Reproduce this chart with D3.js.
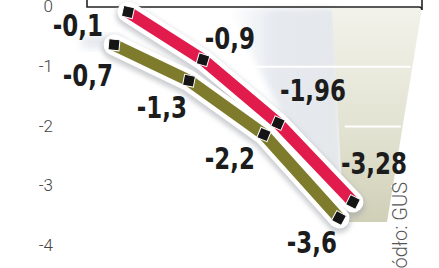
<!DOCTYPE html>
<html>
<head>
<meta charset="utf-8">
<script src="https://cdn.jsdelivr.net/npm/d3@7/dist/d3.min.js"></script>
<style>
  html, body { margin: 0; padding: 0; background: #fff; }
  svg { display: block; }
</style>
</head>
<body>
<svg id="chart" width="439" height="268"></svg>
<script>
// ---- data ----
const categories = ["I", "II", "III", "IV"];
const seriesRed = [-0.1, -0.9, -1.96, -3.28];
const seriesGreen = [-0.7, -1.3, -2.2, -3.6];
const yTickValues = [0, -1, -2, -3, -4];
const gridValues = [-1, -2, -3];
const sourceLabel = "Źródło: GUS";

// ---- layout ----
const svg = d3.select("#chart");
const x = d3.scalePoint().domain(categories).range([128, 353]);
const y = d3.scaleLinear().domain([0, -4]).range([6, 245]);

const pl = d3.formatLocale({decimal: ",", thousands: " ", grouping: [3], currency: ["", " zł"], minus: "-"});
const fmt = pl.format("~g");

const defs = svg.append("defs");
const blur = defs.append("filter").attr("id", "sh").attr("x", "-20%").attr("y", "-20%").attr("width", "140%").attr("height", "140%");
blur.append("feGaussianBlur").attr("stdDeviation", 2.6);
const soft = defs.append("filter").attr("id", "soft").attr("x", "-30%").attr("y", "-30%").attr("width", "160%").attr("height", "160%");
soft.append("feGaussianBlur").attr("stdDeviation", 4);
const soft2 = defs.append("filter").attr("id", "soft2").attr("x", "-30%").attr("y", "-30%").attr("width", "160%").attr("height", "160%");
soft2.append("feGaussianBlur").attr("stdDeviation", 3);

const gB = defs.append("linearGradient").attr("id", "gBlue").attr("x1", 0).attr("x2", 1).attr("y1", 0).attr("y2", 0);
gB.append("stop").attr("offset", "0%").attr("stop-color", "#eaeef3").attr("stop-opacity", 0);
gB.append("stop").attr("offset", "40%").attr("stop-color", "#e6eaf0").attr("stop-opacity", 1);
gB.append("stop").attr("offset", "100%").attr("stop-color", "#e4e7ea");
const gY = defs.append("linearGradient").attr("id", "gBeige").attr("x1", 0).attr("x2", 0).attr("y1", 0).attr("y2", 1);
gY.append("stop").attr("offset", "0%").attr("stop-color", "#f2f2ea");
gY.append("stop").attr("offset", "55%").attr("stop-color", "#e3e3d3");
gY.append("stop").attr("offset", "100%").attr("stop-color", "#d0d0b8");

// background perspective panels
const line = d3.line();
svg.append("path")
  .attr("d", line([[228, 8], [336, 8], [342, 180], [300, 150]]) + "Z")
  .attr("fill", "url(#gBlue)").attr("filter", "url(#soft2)");
svg.append("path")
  .attr("d", line([[332, 8], [422, 8], [387, 222], [344, 222]]) + "Z")
  .attr("fill", "url(#gBeige)");
svg.append("rect").attr("x", 82).attr("y", 36).attr("width", 40).attr("height", 12)
  .attr("fill", "#e3e7ed").attr("filter", "url(#soft)");

// white gridlines across panel
const rightEdge = v => 422 - (y(v) - 8) * (35 / 214);
svg.append("g").selectAll("line").data(gridValues).join("line")
  .attr("x1", v => 248 + (y(v) - 65) * 1.6)
  .attr("x2", v => rightEdge(v) - 2)
  .attr("y1", v => y(v) + 1).attr("y2", v => y(v) + 1)
  .attr("stroke", "#fff").attr("stroke-width", 2);

// legend frame remnant at top
svg.append("path")
  .attr("d", "M87,0 V7 H419 Q422,7 422,10 V0")
  .attr("fill", "none").attr("stroke", "#222").attr("stroke-width", 1.6);

// y tick labels
svg.append("g").selectAll("text").data(yTickValues).join("text")
  .attr("x", 53).attr("y", v => y(v))
  .attr("text-anchor", "end").attr("dominant-baseline", "central")
  .style("font-family", "Roboto, 'Open Sans', sans-serif").style("font-weight", 300)
  .style("font-size", "17px").attr("fill", "#444")
  .text(v => v === 0 ? "0" : fmt(v));

// series
const series = [
  {values: seriesRed, color: "#e11b4c", dx: 0, dy: 0,
   lab: [[-25, 24], [52, -11], [68, -22], [54, -28]]},
  {values: seriesGreen, color: "#7e7c2c", dx: -14, dy: -3,
   lab: [[-1, 41], [-2, 37], [-9, 35], [-2, 35]]}
];

series.forEach(s => {
  s.pts = s.values.map((v, i) => [x(categories[i]) + s.dx, y(v) + s.dy]);
});

const gLines = svg.append("g");
series.forEach(s => {
  gLines.append("path").attr("d", line(s.pts)).attr("fill", "none")
    .attr("stroke", "#9a9ea6").attr("stroke-opacity", 0.5).attr("stroke-width", 24)
    .attr("stroke-linecap", "round").attr("stroke-linejoin", "round")
    .attr("transform", "translate(0,3)").attr("filter", "url(#sh)");
});
series.forEach(s => {
  gLines.append("path").attr("d", line(s.pts)).attr("fill", "none")
    .attr("stroke", "#fff").attr("stroke-width", 21)
    .attr("stroke-linecap", "round").attr("stroke-linejoin", "round");
  gLines.append("path").attr("d", line(s.pts)).attr("fill", "none")
    .attr("stroke", s.color).attr("stroke-width", 12)
    .attr("stroke-linecap", "butt").attr("stroke-linejoin", "round");
});
series.forEach(s => {
  const ang = s.pts.map((p, i) => {
    const a = s.pts[Math.max(0, i - 1)], b = s.pts[Math.min(s.pts.length - 1, i + 1)];
    return Math.atan2(b[1] - a[1], b[0] - a[0]) * 180 / Math.PI;
  });
  gLines.append("g").selectAll("rect").data(s.pts).join("rect")
    .attr("x", -5.5).attr("y", -5.5).attr("width", 11).attr("height", 11)
    .attr("fill", "#151515").attr("stroke", "#fff").attr("stroke-width", 1)
    .attr("transform", (p, i) => `translate(${p[0]},${p[1]}) rotate(${ang[i] - 20})`);
});

// value labels
series.forEach(s => {
  svg.append("g").selectAll("text").data(s.values).join("text")
    .attr("transform", (v, i) => `translate(${s.pts[i][0] + s.lab[i][0]},${s.pts[i][1] + s.lab[i][1]}) scale(0.85,1)`)
    .attr("text-anchor", "end")
    .style("font-family", "'DejaVu Sans Condensed', 'DejaVu Sans', sans-serif")
    .style("font-stretch", "condensed").style("font-weight", 700)
    .style("font-size", "30px").attr("fill", "#1c1c1c")
    .text(v => fmt(v));
});

// source
svg.append("text")
  .attr("transform", "translate(407,182) rotate(-90)")
  .attr("text-anchor", "end")
  .style("font-family", "Roboto, 'Open Sans', sans-serif").style("font-weight", 300)
  .style("font-size", "20px").attr("fill", "#555")
  .text(sourceLabel);
</script>
</body>
</html>
